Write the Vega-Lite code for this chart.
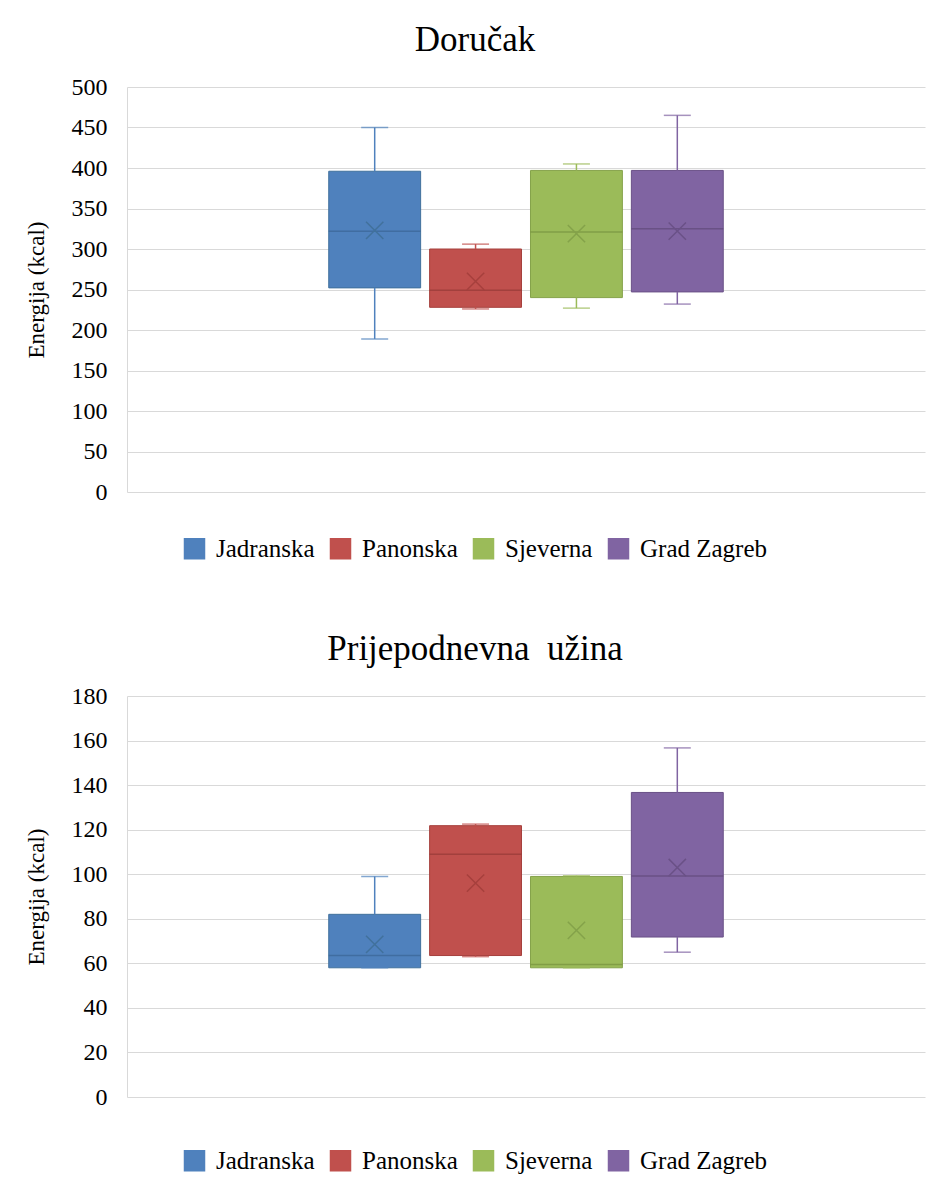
{
  "$schema": "https://vega.github.io/schema/vega-lite/v6.json",
  "background": "white",
  "padding": {"left": 25, "top": 23, "right": 5, "bottom": 0},
  "spacing": 70,
  "resolve": {"scale": {"color": "independent", "stroke": "independent", "fill": "independent"}, "legend": {"color": "independent"}},
  "config": {
    "view": {"stroke": null},
    "font": "Liberation Serif",
    "title": {"font": "Liberation Serif", "fontSize": 35, "fontWeight": "normal", "color": "#000000", "offset": 17, "anchor": "middle", "frame": "bounds"},
    "axis": {"labelFont": "Liberation Serif", "labelFontSize": 24, "labelColor": "#000000", "titleFont": "Liberation Serif", "titleFontSize": 23, "titleFontWeight": "normal", "titleColor": "#000000", "domainColor": "#D9D9D9", "gridColor": "#D9D9D9", "ticks": false, "labelPadding": 20, "titlePadding": 23},
    "legend": {"labelFont": "Liberation Serif", "labelFontSize": 25, "labelColor": "#000000", "symbolType": "square", "symbolSize": 400, "labelOffset": 9, "columnPadding": 12, "padding": 0, "direction": "horizontal"}
  },
  "datasets": {
    "dorucak": [
      {"regija": "Jadranska", "min": 189, "q1": 252, "median": 322, "q3": 396, "max": 450, "mean": 323},
      {"regija": "Panonska", "min": 226, "q1": 228, "median": 249, "q3": 300, "max": 306, "mean": 260},
      {"regija": "Sjeverna", "min": 227, "q1": 240, "median": 321, "q3": 397, "max": 405, "mean": 319},
      {"regija": "Grad Zagreb", "min": 232, "q1": 247, "median": 325, "q3": 397, "max": 465, "mean": 322}
    ],
    "uzina": [
      {"regija": "Jadranska", "min": 58, "q1": 58, "median": 63.5, "q3": 82, "max": 99, "mean": 68.5},
      {"regija": "Panonska", "min": 63, "q1": 63.5, "median": 109, "q3": 121.8, "max": 122.5, "mean": 96},
      {"regija": "Sjeverna", "min": 58, "q1": 58, "median": 59.5, "q3": 99, "max": 99.3, "mean": 74.8},
      {"regija": "Grad Zagreb", "min": 65, "q1": 71.8, "median": 99.2, "q3": 136.7, "max": 156.7, "mean": 103}
    ]
  },
  "vconcat": [
    {
      "data": {"name": "dorucak"},
      "title": {"text": "Doručak"},
      "width": 798,
      "height": 405,
      "encoding": {
        "x": {"field": "regija", "type": "nominal", "axis": null, "scale": {"domain": ["l1", "l2", "Jadranska", "Panonska", "Sjeverna", "Grad Zagreb", "r1", "r2"], "paddingInner": 0.089, "paddingOuter": 0}}
      },
      "layer": [
        {"mark": {"type": "bar"},
         "encoding": {
           "y": {"field": "q1", "type": "quantitative", "title": "Energija (kcal)", "scale": {"domain": [0, 500], "nice": false}, "axis": {"values": [0, 50, 100, 150, 200, 250, 300, 350, 400, 450, 500]}},
           "y2": {"field": "q3"},
           "color": {"field": "regija", "type": "nominal", "title": null, "scale": {"domain": ["Jadranska", "Panonska", "Sjeverna", "Grad Zagreb"], "range": ["#4F81BD", "#C0504D", "#9BBB59", "#8064A2"]}, "legend": {"orient": "none", "direction": "horizontal", "legendX": 55, "legendY": 449}}
         }},
        {"mark": {"type": "bar", "filled": false, "strokeWidth": 1},
         "encoding": {
           "y": {"field": "q1", "type": "quantitative"},
           "y2": {"field": "q3"},
           "stroke": {"field": "regija", "type": "nominal", "legend": null, "scale": {"domain": ["Jadranska", "Panonska", "Sjeverna", "Grad Zagreb"], "range": ["#41719C", "#A6403D", "#84A24A", "#6A5187"]}}
         }},
        {"mark": {"type": "rule", "strokeWidth": 1.5},
         "encoding": {"y": {"field": "min", "type": "quantitative"}, "y2": {"field": "q1"}, "color": {"field": "regija", "type": "nominal", "legend": null}}},
        {"mark": {"type": "rule", "strokeWidth": 1.5},
         "encoding": {"y": {"field": "q3", "type": "quantitative"}, "y2": {"field": "max"}, "color": {"field": "regija", "type": "nominal", "legend": null}}},
        {"mark": {"type": "tick", "size": 27, "thickness": 1.5},
         "encoding": {"y": {"field": "min", "type": "quantitative"}, "color": {"field": "regija", "type": "nominal", "legend": null}}},
        {"mark": {"type": "tick", "size": 27, "thickness": 1.5},
         "encoding": {"y": {"field": "max", "type": "quantitative"}, "color": {"field": "regija", "type": "nominal", "legend": null}}},
        {"mark": {"type": "tick", "size": 92, "thickness": 1.5},
         "encoding": {"y": {"field": "median", "type": "quantitative"}, "fill": {"field": "regija", "type": "nominal", "legend": null, "scale": {"domain": ["Jadranska", "Panonska", "Sjeverna", "Grad Zagreb"], "range": ["#3A6595", "#953936", "#76913F", "#5F4879"]}}}},
        {"mark": {"type": "point", "shape": "M-1,-1L1,1M-1,1L1,-1", "filled": false, "size": 300, "strokeWidth": 1.5, "opacity": 1},
         "encoding": {"y": {"field": "mean", "type": "quantitative"}, "stroke": {"field": "regija", "type": "nominal", "legend": null}}}
      ]
    },
    {
      "data": {"name": "uzina"},
      "title": {"text": "Prijepodnevna \u00a0užina"},
      "width": 798,
      "height": 401,
      "encoding": {
        "x": {"field": "regija", "type": "nominal", "axis": null, "scale": {"domain": ["l1", "l2", "Jadranska", "Panonska", "Sjeverna", "Grad Zagreb", "r1", "r2"], "paddingInner": 0.089, "paddingOuter": 0}}
      },
      "layer": [
        {"mark": {"type": "bar"},
         "encoding": {
           "y": {"field": "q1", "type": "quantitative", "title": "Energija (kcal)", "scale": {"domain": [0, 180], "nice": false}, "axis": {"values": [0, 20, 40, 60, 80, 100, 120, 140, 160, 180]}},
           "y2": {"field": "q3"},
           "color": {"field": "regija", "type": "nominal", "title": null, "scale": {"domain": ["Jadranska", "Panonska", "Sjeverna", "Grad Zagreb"], "range": ["#4F81BD", "#C0504D", "#9BBB59", "#8064A2"]}, "legend": {"orient": "none", "direction": "horizontal", "legendX": 55, "legendY": 452}}
         }},
        {"mark": {"type": "bar", "filled": false, "strokeWidth": 1},
         "encoding": {
           "y": {"field": "q1", "type": "quantitative"},
           "y2": {"field": "q3"},
           "stroke": {"field": "regija", "type": "nominal", "legend": null, "scale": {"domain": ["Jadranska", "Panonska", "Sjeverna", "Grad Zagreb"], "range": ["#41719C", "#A6403D", "#84A24A", "#6A5187"]}}
         }},
        {"mark": {"type": "rule", "strokeWidth": 1.5},
         "encoding": {"y": {"field": "min", "type": "quantitative"}, "y2": {"field": "q1"}, "color": {"field": "regija", "type": "nominal", "legend": null}}},
        {"mark": {"type": "rule", "strokeWidth": 1.5},
         "encoding": {"y": {"field": "q3", "type": "quantitative"}, "y2": {"field": "max"}, "color": {"field": "regija", "type": "nominal", "legend": null}}},
        {"mark": {"type": "tick", "size": 27, "thickness": 1.5},
         "encoding": {"y": {"field": "min", "type": "quantitative"}, "color": {"field": "regija", "type": "nominal", "legend": null}}},
        {"mark": {"type": "tick", "size": 27, "thickness": 1.5},
         "encoding": {"y": {"field": "max", "type": "quantitative"}, "color": {"field": "regija", "type": "nominal", "legend": null}}},
        {"mark": {"type": "tick", "size": 92, "thickness": 1.5},
         "encoding": {"y": {"field": "median", "type": "quantitative"}, "fill": {"field": "regija", "type": "nominal", "legend": null, "scale": {"domain": ["Jadranska", "Panonska", "Sjeverna", "Grad Zagreb"], "range": ["#3A6595", "#953936", "#76913F", "#5F4879"]}}}},
        {"mark": {"type": "point", "shape": "M-1,-1L1,1M-1,1L1,-1", "filled": false, "size": 300, "strokeWidth": 1.5, "opacity": 1},
         "encoding": {"y": {"field": "mean", "type": "quantitative"}, "stroke": {"field": "regija", "type": "nominal", "legend": null}}}
      ]
    }
  ]
}
